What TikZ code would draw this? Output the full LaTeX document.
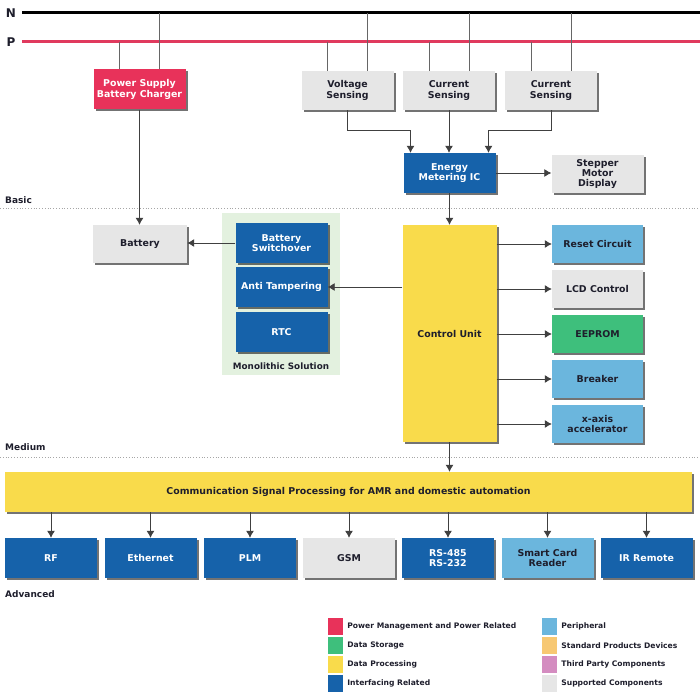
\documentclass[tikz,border=0pt]{standalone}
\usepackage{fontspec}
\setmainfont{DejaVu Sans}
\usetikzlibrary{shadows,positioning,arrows.meta}

\definecolor{pwrred}{HTML}{E8325A}
\definecolor{ifblue}{HTML}{1662AA}
\definecolor{periph}{HTML}{6BB6DD}
\definecolor{storegreen}{HTML}{3EBF7C}
\definecolor{procyellow}{HTML}{F9DB4B}
\definecolor{stdorange}{HTML}{F7C873}
\definecolor{thirdpink}{HTML}{D48CC0}
\definecolor{suppgray}{HTML}{E6E6E6}
\definecolor{monogreen}{HTML}{E3F1DF}
\definecolor{txtdark}{HTML}{1E1E2C}
\definecolor{railred}{HTML}{E03A5E}

\tikzset{
  blk/.style={draw=none, minimum width=92pt, minimum height=40pt, inner sep=1pt,
    align=center, font=\fontsize{9.4}{10.2}\selectfont\bfseries,
    drop shadow={shadow xshift=2pt, shadow yshift=-2pt, fill=black, opacity=0.55}},
  pwrbox/.style={blk, fill=pwrred, text=white},
  ifbox/.style={blk, fill=ifblue, text=white},
  perbox/.style={blk, fill=periph, text=txtdark},
  suppbox/.style={blk, fill=suppgray, text=txtdark},
  storebox/.style={blk, fill=storegreen, text=txtdark},
  procbox/.style={blk, fill=procyellow, text=txtdark},
  tap/.style={draw=black!60, line width=0.8pt},
  arr/.style={-{Latex[length=7pt,width=8pt]}, draw=black!75, line width=0.8pt},
  level/.style={font=\fontsize{9}{10}\selectfont\bfseries, text=txtdark, anchor=west, inner sep=0pt},
  sep/.style={draw=black!35, dotted, line width=0.8pt},
  legsq/.style={minimum width=15pt, minimum height=17pt, inner sep=0pt},
  legtxt/.style={font=\fontsize{7.6}{9}\selectfont\bfseries, text=txtdark, inner sep=0pt}
}

\begin{document}
\begin{tikzpicture}[x=1pt, y=-1pt]
  \useasboundingbox (0,0) rectangle (700,700);

  % rails
  \coordinate (nL) at (22,13);
  \coordinate (nR) at (700,13);
  \coordinate (pL) at (22,42);
  \coordinate (pR) at (700,42);
  \draw [line width=3pt, black] (nL) -- (nR);
  \draw [line width=3pt, railred] (pL) -- (pR);
  \node [font=\fontsize{12}{12}\selectfont\bfseries, text=txtdark] (nlab) at (11,13) {N};
  \node [font=\fontsize{12}{12}\selectfont\bfseries, text=txtdark] (plab) at (11,42) {P};

  % basic level
  \node [pwrbox] (psu) at (139.5,89.5) {Power Supply\\Battery Charger};
  \node [suppbox, minimum height=39pt] (volt) at (347.5,90.5) {Voltage\\Sensing};
  \node [suppbox, minimum height=39pt] (cur1) at (449,90.5) {Current\\Sensing};
  \node [suppbox, minimum height=39pt] (cur2) at (551,90.5) {Current\\Sensing};
  \node [ifbox] (emic) at (449.5,173) {Energy\\Metering IC};
  \node [suppbox, minimum height=38pt] (smd) at (597.5,174) {Stepper\\Motor\\Display};

  \foreach \b in {psu,volt,cur1,cur2} {
    \path ([xshift=-20pt]\b.north) coordinate (\b-l)
          ([xshift=20pt]\b.north) coordinate (\b-r);
    \draw [tap] (\b-l) -- (\b-l |- pL);
    \draw [tap] (\b-r) -- (\b-r |- nL);
  }

  \coordinate (emic-l) at ([xshift=-39pt]emic.north);
  \coordinate (emic-r) at ([xshift=39pt]emic.north);
  \draw [arr] (volt.south) -- ++(0,20) -| (emic-l);
  \draw [arr] (cur1.south) -- (cur1.south |- emic.north);
  \draw [arr] (cur2.south) -- ++(0,20) -| (emic-r);
  \draw [arr] (emic.east) -- (smd.west |- emic.east);

  \node [level] (basic) at (5,200) {Basic};
  \draw [sep] (0,208) -- (700,208);

  % medium level
  \fill [monogreen] (222,213) rectangle (340,375);
  \node [ifbox] (bsw) at (281.5,243) {Battery\\Switchover};
  \node [ifbox] (anti) at (281.5,287) {Anti Tampering};
  \node [ifbox] (rtc) at (281.5,332) {RTC};
  \node [font=\fontsize{8.8}{10}\selectfont\bfseries, text=txtdark] (mono) at (281,366) {Monolithic Solution};
  \node [suppbox, minimum width=94pt, minimum height=38pt] (batt) at (140,244) {Battery};

  \node [procbox, minimum width=94pt, minimum height=217pt] (cu) at (449.5,333.5) {Control Unit};
  \node [perbox, minimum width=91pt, minimum height=38pt] (reset) at (597.5,244) {Reset Circuit};
  \node [suppbox, minimum width=91pt, minimum height=38pt] (lcd) at (597.5,289) {LCD Control};
  \node [storebox, minimum width=91pt, minimum height=38pt] (eeprom) at (597.5,334) {EEPROM};
  \node [perbox, minimum width=91pt, minimum height=38pt] (brk) at (597.5,379) {Breaker};
  \node [perbox, minimum width=91pt, minimum height=38pt] (xacc) at (597.5,424) {x-axis\\accelerator};

  \draw [arr] (psu.south) -- (psu.south |- batt.north);
  \draw [arr] (bsw.west) -- (batt.east |- bsw.west);
  \draw [arr] (emic.south) -- (cu.north);
  \draw [arr] (cu.west |- anti.east) -- (anti.east);
  \foreach \r in {reset,lcd,eeprom,brk,xacc}
    \draw [arr] (cu.east |- \r.west) -- (\r.west);

  \node [level] (medium) at (5,447) {Medium};
  \draw [sep] (0,457) -- (700,457);

  % advanced level
  \node [procbox, minimum width=687pt] (comm) at (348.5,492) {Communication Signal Processing for AMR and domestic automation};
  \draw [arr] (cu.south) -- (cu.south |- comm.north);

  \node [ifbox] (rf) at (51,558) {RF};
  \node [ifbox] (eth) at (150.5,558) {Ethernet};
  \node [ifbox] (plm) at (250,558) {PLM};
  \node [suppbox] (gsm) at (349,558) {GSM};
  \node [ifbox] (rs) at (448,558) {RS-485\\RS-232};
  \node [perbox] (scr) at (547.5,558) {Smart Card\\Reader};
  \node [ifbox] (ir) at (646.5,558) {IR Remote};
  \foreach \c in {rf,eth,plm,gsm,rs,scr,ir}
    \draw [arr] (comm.south -| \c.north) -- (\c.north);

  \node [level] (advanced) at (5,594) {Advanced};

  % legend
  \node [legsq, fill=pwrred] (lg1) at (335.5,626.5) {};
  \node [legsq, fill=storegreen] (lg2) at (335.5,645.5) {};
  \node [legsq, fill=procyellow] (lg3) at (335.5,664.5) {};
  \node [legsq, fill=ifblue] (lg4) at (335.5,683.5) {};
  \node [legsq, fill=periph] (lg5) at (549.5,626.5) {};
  \node [legsq, fill=stdorange] (lg6) at (549.5,645.5) {};
  \node [legsq, fill=thirdpink] (lg7) at (549.5,664.5) {};
  \node [legsq, fill=suppgray] (lg8) at (549.5,683.5) {};
  \node [legtxt, right=4pt of lg1] (lt1) {Power Management and Power Related};
  \node [legtxt, right=4pt of lg2] (lt2) {Data Storage};
  \node [legtxt, right=4pt of lg3] (lt3) {Data Processing};
  \node [legtxt, right=4pt of lg4] (lt4) {Interfacing Related};
  \node [legtxt, right=4pt of lg5] (lt5) {Peripheral};
  \node [legtxt, right=4pt of lg6] (lt6) {Standard Products Devices};
  \node [legtxt, right=4pt of lg7] (lt7) {Third Party Components};
  \node [legtxt, right=4pt of lg8] (lt8) {Supported Components};
\end{tikzpicture}
\end{document}
